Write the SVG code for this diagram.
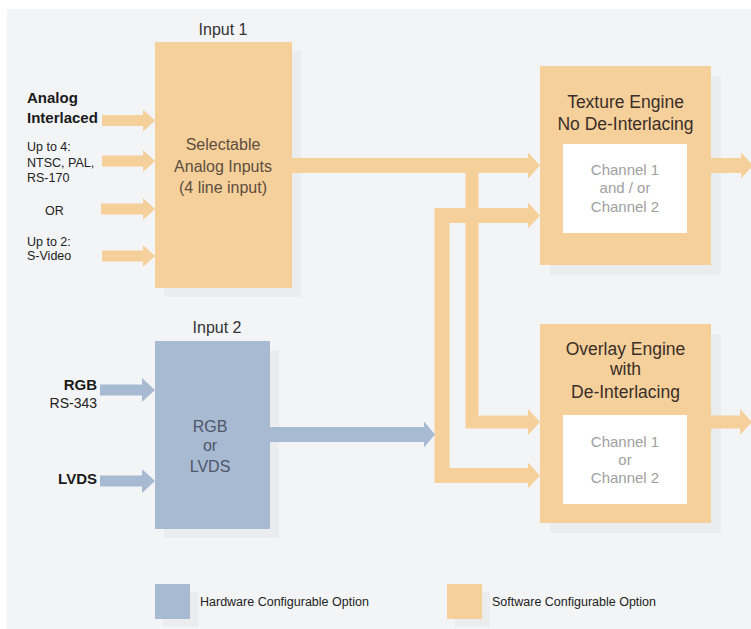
<svg xmlns="http://www.w3.org/2000/svg" width="751" height="629" viewBox="0 0 751 629">
<style>
.o{fill:#f5d09b}
.b{fill:#a8b9d2}
.sh{fill:#eaecee}
.w{fill:#ffffff}
.lo{fill:none;stroke:#f5d09b;stroke-linejoin:miter}
.lb{fill:none;stroke:#a8b9d2;stroke-linejoin:miter}
text{font-family:"Liberation Sans",Arial,sans-serif}
.t{font-size:16px;fill:#333;text-anchor:middle}
.bo{font-size:16px;fill:#5e4e40;text-anchor:middle}
.bb{font-size:16px;fill:#4e5668;text-anchor:middle}
.en{font-size:17.5px;fill:#3a2e28;text-anchor:middle}
.ch{font-size:15px;fill:#a0a0a0;text-anchor:middle}
.lab{font-size:15px;font-weight:bold;fill:#1a1a1a}
.sm{font-size:12.5px;fill:#222}
.lg{font-size:12.5px;fill:#222}
</style>
<defs>
<marker id="hO" markerUnits="userSpaceOnUse" markerWidth="12" markerHeight="26" refX="0" refY="13" orient="auto"><path d="M0,0 L12,13 L0,26 Z" fill="#f5d09b"/></marker>
<marker id="hOs" markerUnits="userSpaceOnUse" markerWidth="12" markerHeight="22" refX="0" refY="11" orient="auto"><path d="M0,0 L12,11 L0,22 Z" fill="#f5d09b"/></marker>
<marker id="hB" markerUnits="userSpaceOnUse" markerWidth="12" markerHeight="26" refX="0" refY="13" orient="auto"><path d="M0,0 L11,13 L0,26 Z" fill="#a8b9d2"/></marker>
<marker id="hBs" markerUnits="userSpaceOnUse" markerWidth="13" markerHeight="24" refX="0" refY="12" orient="auto"><path d="M0,0 L13,12 L0,24 Z" fill="#a8b9d2"/></marker>
</defs>
<rect x="0" y="0" width="751" height="629" fill="#ffffff"/>
<rect x="7" y="9" width="744" height="620" fill="#f3f4f6"/>

<g id="shadows">
<rect class="sh" x="164" y="51" width="137" height="246"/>
<rect class="sh" x="164" y="350" width="115" height="188"/>
<rect class="sh" x="550" y="76" width="171" height="199"/>
<rect class="sh" x="550" y="334" width="171" height="199"/>
<rect class="sh" x="163" y="592" width="35" height="35"/>
<rect class="sh" x="455" y="592" width="35" height="35"/>
</g>

<g id="input1">
<text class="t" x="223" y="35">Input 1</text>
<rect class="o" x="155" y="42" width="137" height="246"/>
<text class="bo" x="223" y="150">Selectable</text>
<text class="bo" x="223" y="172">Analog Inputs</text>
<text class="bo" x="223" y="193">(4 line input)</text>
</g>

<g id="input1-labels">
<text class="lab" x="27" y="103">Analog</text>
<text class="lab" x="27" y="123">Interlaced</text>
<text class="sm" x="27" y="151">Up to 4:</text>
<text class="sm" x="27" y="167">NTSC, PAL,</text>
<text class="sm" x="27" y="182">RS-170</text>
<text class="sm" x="45" y="215">OR</text>
<text class="sm" x="27" y="246">Up to 2:</text>
<text class="sm" x="27" y="260">S-Video</text>
</g>

<g id="input2">
<text class="t" x="217" y="333">Input 2</text>
<rect class="b" x="155" y="341" width="115" height="188"/>
<text class="bb" x="210" y="432">RGB</text>
<text class="bb" x="210" y="451">or</text>
<text class="bb" x="210" y="472">LVDS</text>
</g>

<g id="input2-labels">
<text class="lab" x="97" y="390" text-anchor="end">RGB</text>
<text class="sm" x="97" y="408" text-anchor="end" style="font-size:14px">RS-343</text>
<text class="lab" x="97" y="484" text-anchor="end">LVDS</text>
</g>

<g id="texture-engine">
<rect class="o" x="540" y="66" width="171" height="199"/>
<text class="en" x="625.5" y="108">Texture Engine</text>
<text class="en" x="625.5" y="130">No De-Interlacing</text>
<rect class="w" x="563" y="144" width="124" height="89"/>
<text class="ch" x="625" y="175">Channel 1</text>
<text class="ch" x="625" y="193">and / or</text>
<text class="ch" x="625" y="212">Channel 2</text>
</g>

<g id="overlay-engine">
<rect class="o" x="540" y="324" width="171" height="199"/>
<text class="en" x="625.5" y="355">Overlay Engine</text>
<text class="en" x="625.5" y="375">with</text>
<text class="en" x="625.5" y="398">De-Interlacing</text>
<rect class="w" x="563" y="415" width="124" height="89"/>
<text class="ch" x="625" y="447">Channel 1</text>
<text class="ch" x="625" y="465">or</text>
<text class="ch" x="625" y="483">Channel 2</text>
</g>

<g id="legend">
<rect class="b" x="155" y="584" width="35" height="35"/>
<text class="lg" x="200" y="606">Hardware Configurable Option</text>
<rect class="o" x="447" y="584" width="35" height="35"/>
<text class="lg" x="492" y="606">Software Configurable Option</text>
</g>

<g id="connectors">
<path class="lo" stroke-width="11" d="M102,120.5 H143" marker-end="url(#hOs)"/>
<path class="lo" stroke-width="11" d="M102,161 H143" marker-end="url(#hOs)"/>
<path class="lo" stroke-width="11" d="M101,209 H143" marker-end="url(#hOs)"/>
<path class="lo" stroke-width="11" d="M102,256 H143" marker-end="url(#hOs)"/>
<path class="lb" stroke-width="11" d="M100,390 H142" marker-end="url(#hBs)"/>
<path class="lb" stroke-width="11" d="M100,481 H142" marker-end="url(#hBs)"/>
<path class="lo" stroke-width="15" d="M292,165.5 H528" marker-end="url(#hO)"/>
<path class="lo" stroke-width="13" d="M472,165.5 V422 H528" marker-end="url(#hO)"/>
<path class="lo" stroke-width="15" d="M442,215.5 H528" marker-end="url(#hO)"/>
<path class="lo" stroke-width="15" d="M442,208 V475.5 H528" marker-end="url(#hO)"/>
<path class="lb" stroke-width="15" d="M270,434.5 H424" marker-end="url(#hB)"/>
<path class="lo" stroke-width="15" d="M711,165.5 H741" marker-end="url(#hO)"/>
<path class="lo" stroke-width="13" d="M711,422 H740" marker-end="url(#hO)"/>
</g>
</svg>
